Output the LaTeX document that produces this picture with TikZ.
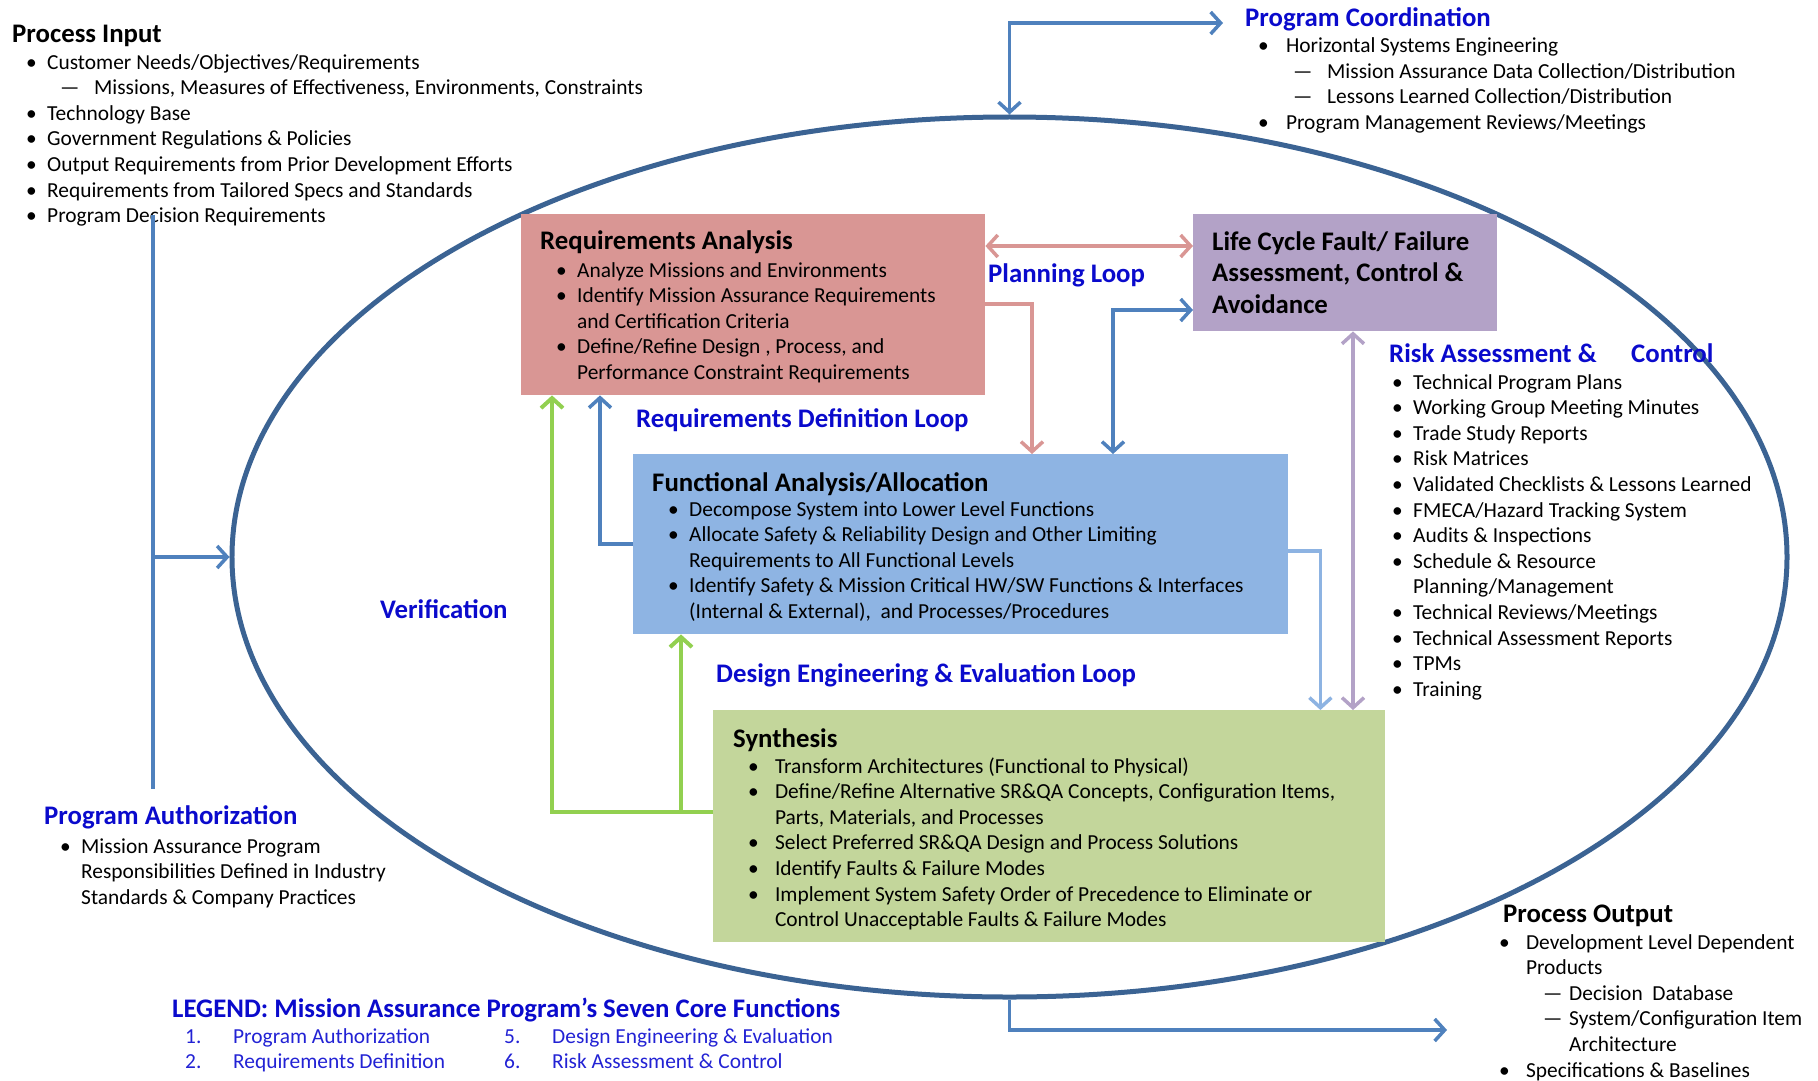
\documentclass[tikz,border=0pt]{standalone}
\usepackage{fontspec}
\setmainfont{Carlito}
\usetikzlibrary{arrows.meta,shapes.geometric,calc}
\definecolor{ellc}{HTML}{3B6393}
\definecolor{conblue}{HTML}{4F81BD}
\definecolor{rafill}{HTML}{D99694}
\definecolor{lcfill}{HTML}{B3A2C7}
\definecolor{fafill}{HTML}{8EB4E3}
\definecolor{syfill}{HTML}{C3D69B}
\definecolor{gline}{HTML}{92D050}
\definecolor{lblue}{HTML}{8DB3E2}
\definecolor{labblue}{HTML}{0A0ACC}
\definecolor{legblue}{HTML}{2222D4}
\newcommand\bul[1][21bp]{\makebox[#1][l]{•}}
\newcommand\bind[1][21bp]{\hspace*{#1}}
\begin{document}
\begin{tikzpicture}[x=1bp,y=-1bp,
  txt/.style={inner sep=0pt, anchor=base west, align=left, font={\fontsize{21.4bp}{25.6bp}\selectfont}},
  ttl/.style={inner sep=0pt, anchor=base west, font={\fontsize{26.8bp}{31.5bp}\selectfont\bfseries}},
  lab/.style={ttl, text=labblue},
  boxs/.style={draw=none, inner sep=0pt, anchor=north west},
  tip/.style={-{Straight Barb[length=10bp,width=22bp]}},
  tips/.style={{Straight Barb[length=10bp,width=22bp]}-{Straight Barb[length=10bp,width=22bp]}},
  con/.style={draw=conblue, line width=3.5bp},
]
\useasboundingbox (0,0) rectangle (1818,1080);

% ellipse
\node[ellipse, draw=ellc, line width=5bp, minimum width=1555bp, minimum height=880bp, inner sep=0pt] (cyc) at (1009.5,557) {};

% boxes
\node[boxs, fill=rafill, minimum width=464bp, minimum height=181bp] (ra) at (521,214) {};
\node[boxs, fill=lcfill, minimum width=304bp, minimum height=117bp] (lc) at (1193,214) {};
\node[boxs, fill=fafill, minimum width=655bp, minimum height=180bp] (fa) at (633,454) {};
\node[boxs, fill=syfill, minimum width=672bp, minimum height=232bp] (sy) at (713,710) {};

% box texts (base anchor = baseline of last line)
\node[ttl] (ratitle) at (540,249) {Requirements Analysis};
\node[txt] (ralist) at (556,{277+4*25.6}) {\bul Analyze Missions and Environments\\
\bul Identify Mission Assurance Requirements\\
\bind and Certification Criteria\\
\bul Define/Refine Design , Process, and\\
\bind Performance Constraint Requirements};

\node[txt, font={\fontsize{26.8bp}{31.5bp}\selectfont\bfseries}] (lctext) at (1212,{250+2*31.5}) {Life Cycle Fault/ Failure\\
Assessment, Control \&\\
Avoidance};

\node[ttl] (fatitle) at (652,491) {Functional Analysis/Allocation};
\node[txt] (falist) at (668,{516+4*25.6}) {\bul Decompose System into Lower Level Functions\\
\bul Allocate Safety \& Reliability Design and Other Limiting\\
\bind Requirements to All Functional Levels\\
\bul Identify Safety \& Mission Critical HW/SW Functions \& Interfaces\\
\bind (Internal \& External),\ \ and Processes/Procedures};

\node[ttl] (sytitle) at (733,747) {Synthesis};
\node[txt] (sylist) at (748,{773+6*25.6}) {\bul[22bp] Transform Architectures (Functional to Physical)\\
\bul[22bp] Define/Refine Alternative SR\&QA Concepts, Configuration Items,\\
\bind[22bp] Parts, Materials, and Processes\\
\bul[22bp] Select Preferred SR\&QA Design and Process Solutions\\
\bul[22bp] Identify Faults \& Failure Modes\\
\bul[22bp] Implement System Safety Order of Precedence to Eliminate or\\
\bind[22bp] Control Unacceptable Faults \& Failure Modes};

% outside texts
\node[ttl] (pititle) at (12,42) {Process Input};
\node[txt] (pilist) at (26,{69+6*25.6}) {\bul Customer Needs/Objectives/Requirements\\
\hspace*{34bp}\makebox[34bp][l]{—}Missions, Measures of Effectiveness, Environments, Constraints\\
\bul Technology Base\\
\bul Government Regulations \& Policies\\
\bul Output Requirements from Prior Development Efforts\\
\bul Requirements from Tailored Specs and Standards\\
\bul Program Decision Requirements};

\node[lab] (pctitle) at (1245,26) {Program Coordination};
\node[txt] (pclist) at (1258,{52+3*25.8}) {\bul[23bp] Horizontal Systems Engineering\\
\hspace*{35bp}\makebox[34bp][l]{—}Mission Assurance Data Collection/Distribution\\
\hspace*{35bp}\makebox[34bp][l]{—}Lessons Learned Collection/Distribution\\
\bul[23bp] Program Management Reviews/Meetings};

\node[lab] (ratitle2) at (1389,362) {\makebox[242bp][l]{Risk Assessment \&}Control};
\node[txt] (rlist) at (1392,{389+12*25.6}) {\bul Technical Program Plans\\
\bul Working Group Meeting Minutes\\
\bul Trade Study Reports\\
\bul Risk Matrices\\
\bul Validated Checklists \& Lessons Learned\\
\bul FMECA/Hazard Tracking System\\
\bul Audits \& Inspections\\
\bul Schedule \& Resource\\
\bind Planning/Management\\
\bul Technical Reviews/Meetings\\
\bul Technical Assessment Reports\\
\bul TPMs\\
\bul Training};

\node[ttl] (potitle) at (1503,922) {Process Output};
\node[txt] (polist) at (1499,{949+5*25.6}) {\bul[22bp] Development Level Dependent\\
\bind[22bp] Products\\
\hspace*{44bp}\makebox[26bp][l]{—}Decision\ \ Database\\
\hspace*{44bp}\makebox[26bp][l]{—}System/Configuration Item\\
\hspace*{70bp}Architecture\\
\bul[22bp] Specifications \& Baselines};

\node[lab] (patitle) at (44,824) {Program Authorization};
\node[txt] (palist) at (60,{853+2*25.6}) {\bul Mission Assurance Program\\
\bind Responsibilities Defined in Industry\\
\bind Standards \& Company Practices};

% loop labels
\node[lab] (plan) at (988,282) {Planning Loop};
\node[lab] (rdl) at (636,427) {Requirements Definition Loop};
\node[lab] (ver) at (380,618) {Verification};
\node[lab] (del) at (716,682) {Design Engineering \& Evaluation Loop};

% legend
\node[lab] (legtitle) at (172,1017) {LEGEND: Mission Assurance Program’s Seven Core Functions};
\node[txt, text=legblue] (leg1) at (185,{1043+25.6}) {\makebox[48bp][l]{1.}Program Authorization\\
\makebox[48bp][l]{2.}Requirements Definition};
\node[txt, text=legblue] (leg2) at (504,{1043+25.6}) {\makebox[48bp][l]{5.}Design Engineering \& Evaluation\\
\makebox[48bp][l]{6.}Risk Assessment \& Control};

% outside connectors
\coordinate (pitop) at (153,215);
\coordinate (pibot) at (153,789);
\coordinate (pcend) at (1223,23);
\coordinate (poend) at (1447,1030);
\draw[con] (pitop) -- (pibot);
\draw[con, tip] (pitop |- cyc.west) -- (cyc.west);
\draw[con, tips] (cyc.north) |- (pcend);
\draw[con, tip] (cyc.south) |- (poend);

% inner connectors
\draw[draw=rafill, line width=3.5bp, tips] ([yshift=-32bp]ra.north east) -- ([yshift=-32bp]lc.north west);
\draw[draw=rafill, line width=3.5bp, tip] ([yshift=-90bp]ra.north east) -| ([xshift=399bp]fa.north west);
\draw[con, tips] ([xshift=480bp]fa.north west) |- ([yshift=-96bp]lc.north west);
\draw[draw=lcfill, line width=3.5bp, tips] ([xshift=160bp]lc.south west) -- ([xshift=160bp]lc.south west |- sy.north);
\draw[draw=lblue, line width=3.5bp, tip] ([yshift=-97bp]fa.north east) -| ([xshift=-65bp]sy.north east);
\draw[con, tip] ([yshift=-90bp]fa.north west) -| ([xshift=79bp]ra.south west);
\coordinate (gj) at ([yshift=-102bp]sy.north west);
\coordinate (gbx) at ([xshift=48bp]fa.south west);
\draw[draw=gline, line width=4bp, tip] (gj) -| ([xshift=31bp]ra.south west);
\draw[draw=gline, line width=4bp, tip] (gbx |- gj) -- (gbx);
\end{tikzpicture}
\end{document}
